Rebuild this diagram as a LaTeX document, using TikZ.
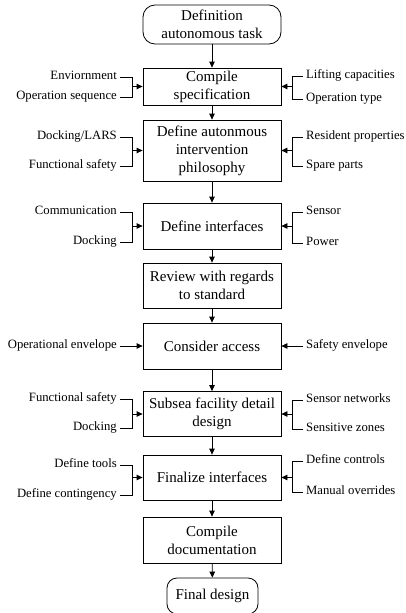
\documentclass[tikz,border=0pt]{standalone}
\usepackage{fontspec}
\setmainfont{Liberation Serif}
\usetikzlibrary{arrows.meta}
\begin{document}
\begin{tikzpicture}[x=1pt,y=-1pt,
  box/.style={draw, line width=0.8pt, minimum width=138pt, inner sep=0pt, align=center, font=\fontsize{15}{18}\selectfont},
  term/.style={box, rounded corners=12pt},
  lab/.style={font=\fontsize{12.7}{15}\selectfont, inner xsep=3pt, inner ysep=0pt, text height=1.5ex, text depth=0.3ex},
  link/.style={line width=0.8pt},
  flow/.style={link, -{Triangle[length=6pt,width=5.5pt]}}
]
\useasboundingbox (0,0) rectangle (406,613);

% main column
\node[term, minimum height=39pt] (s) at (212,24.5) {Definition\\autonomous task};
\node[box, minimum height=37pt] (b1) at (212,86.5) {Compile\\specification};
\node[box, minimum height=61pt] (b2) at (212,150.5) {Define autonmous\\intervention\\philosophy};
\node[box, minimum height=46pt] (b3) at (212,226) {Define interfaces};
\node[box, minimum height=45pt] (b4) at (212,285.5) {Review with regards\\to standard};
\node[box, minimum height=46pt] (b5) at (212,346) {Consider access};
\node[box, minimum height=45pt] (b6) at (212,414) {Subsea facility detail\\design};
\node[box, minimum height=45pt] (b7) at (212,477.5) {Finalize interfaces};
\node[box, minimum height=46pt] (b8) at (212,540) {Compile\\documentation};
\node[term, minimum width=91pt, minimum height=36pt, rounded corners=10pt] (e) at (212.5,596) {Final design};

\draw[flow] (s) -- (b1);
\draw[flow] (b1) -- (b2);
\draw[flow] (b2) -- (b3);
\draw[flow] (b3) -- (b4);
\draw[flow] (b4) -- (b5);
\draw[flow] (b5) -- (b6);
\draw[flow] (b6) -- (b7);
\draw[flow] (b7) -- (b8);
\draw[flow] (b8) -- (e);

% row 1
\node[lab, anchor=east] (l11) at (120,77) {Enviornment};
\node[lab, anchor=east] (l12) at (120,97) {Operation sequence};
\coordinate (jl1) at (132,86.5);
\draw[link] (l11.east) -| (jl1);
\draw[link] (l12.east) -| (jl1);
\draw[flow] (jl1) -- (b1.west);
\node[lab, anchor=west] (r11) at (303,76) {Lifting capacities};
\node[lab, anchor=west] (r12) at (303,99) {Operation type};
\coordinate (jr1) at (292,86.5);
\draw[link] (r11.west) -| (jr1);
\draw[link] (r12.west) -| (jr1);
\draw[flow] (jr1) -- (b1.east);

% row 2
\node[lab, anchor=east] (l21) at (120,137) {Docking/LARS};
\node[lab, anchor=east] (l22) at (120,166) {Functional safety};
\coordinate (jl2) at (132,150.5);
\draw[link] (l21.east) -| (jl2);
\draw[link] (l22.east) -| (jl2);
\draw[flow] (jl2) -- (b2.west);
\node[lab, anchor=west] (r21) at (303,137) {Resident properties};
\node[lab, anchor=west] (r22) at (303,166) {Spare parts};
\coordinate (jr2) at (292,150.5);
\draw[link] (r21.west) -| (jr2);
\draw[link] (r22.west) -| (jr2);
\draw[flow] (jr2) -- (b2.east);

% row 3
\node[lab, anchor=east] (l31) at (120,212) {Communication};
\node[lab, anchor=east] (l32) at (120,242) {Docking};
\coordinate (jl3) at (132,226);
\draw[link] (l31.east) -| (jl3);
\draw[link] (l32.east) -| (jl3);
\draw[flow] (jl3) -- (b3.west);
\node[lab, anchor=west] (r31) at (303,212) {Sensor};
\node[lab, anchor=west] (r32) at (303,243) {Power};
\coordinate (jr3) at (292,226);
\draw[link] (r31.west) -| (jr3);
\draw[link] (r32.west) -| (jr3);
\draw[flow] (jr3) -- (b3.east);

% row 5
\node[lab, anchor=east] (l51) at (120,346) {Operational envelope};
\draw[flow] (l51.east) -- (b5.west);
\node[lab, anchor=west] (r51) at (303,346) {Safety envelope};
\draw[flow] (r51.west) -- (b5.east);

% row 6
\node[lab, anchor=east] (l61) at (120,399) {Functional safety};
\node[lab, anchor=east] (l62) at (120,428) {Docking};
\coordinate (jl6) at (132,414);
\draw[link] (l61.east) -| (jl6);
\draw[link] (l62.east) -| (jl6);
\draw[flow] (jl6) -- (b6.west);
\node[lab, anchor=west] (r61) at (303,400) {Sensor networks};
\node[lab, anchor=west] (r62) at (303,429) {Sensitive zones};
\coordinate (jr6) at (292,414);
\draw[link] (r61.west) -| (jr6);
\draw[link] (r62.west) -| (jr6);
\draw[flow] (jr6) -- (b6.east);

% row 7
\node[lab, anchor=east] (l71) at (120,465) {Define tools};
\node[lab, anchor=east] (l72) at (120,495) {Define contingency};
\coordinate (jl7) at (132,477.5);
\draw[link] (l71.east) -| (jl7);
\draw[link] (l72.east) -| (jl7);
\draw[flow] (jl7) -- (b7.west);
\node[lab, anchor=west] (r71) at (303,461) {Define controls};
\node[lab, anchor=west] (r72) at (303,492) {Manual overrides};
\coordinate (jr7) at (292,477.5);
\draw[link] (r71.west) -| (jr7);
\draw[link] (r72.west) -| (jr7);
\draw[flow] (jr7) -- (b7.east);
\end{tikzpicture}
\end{document}
